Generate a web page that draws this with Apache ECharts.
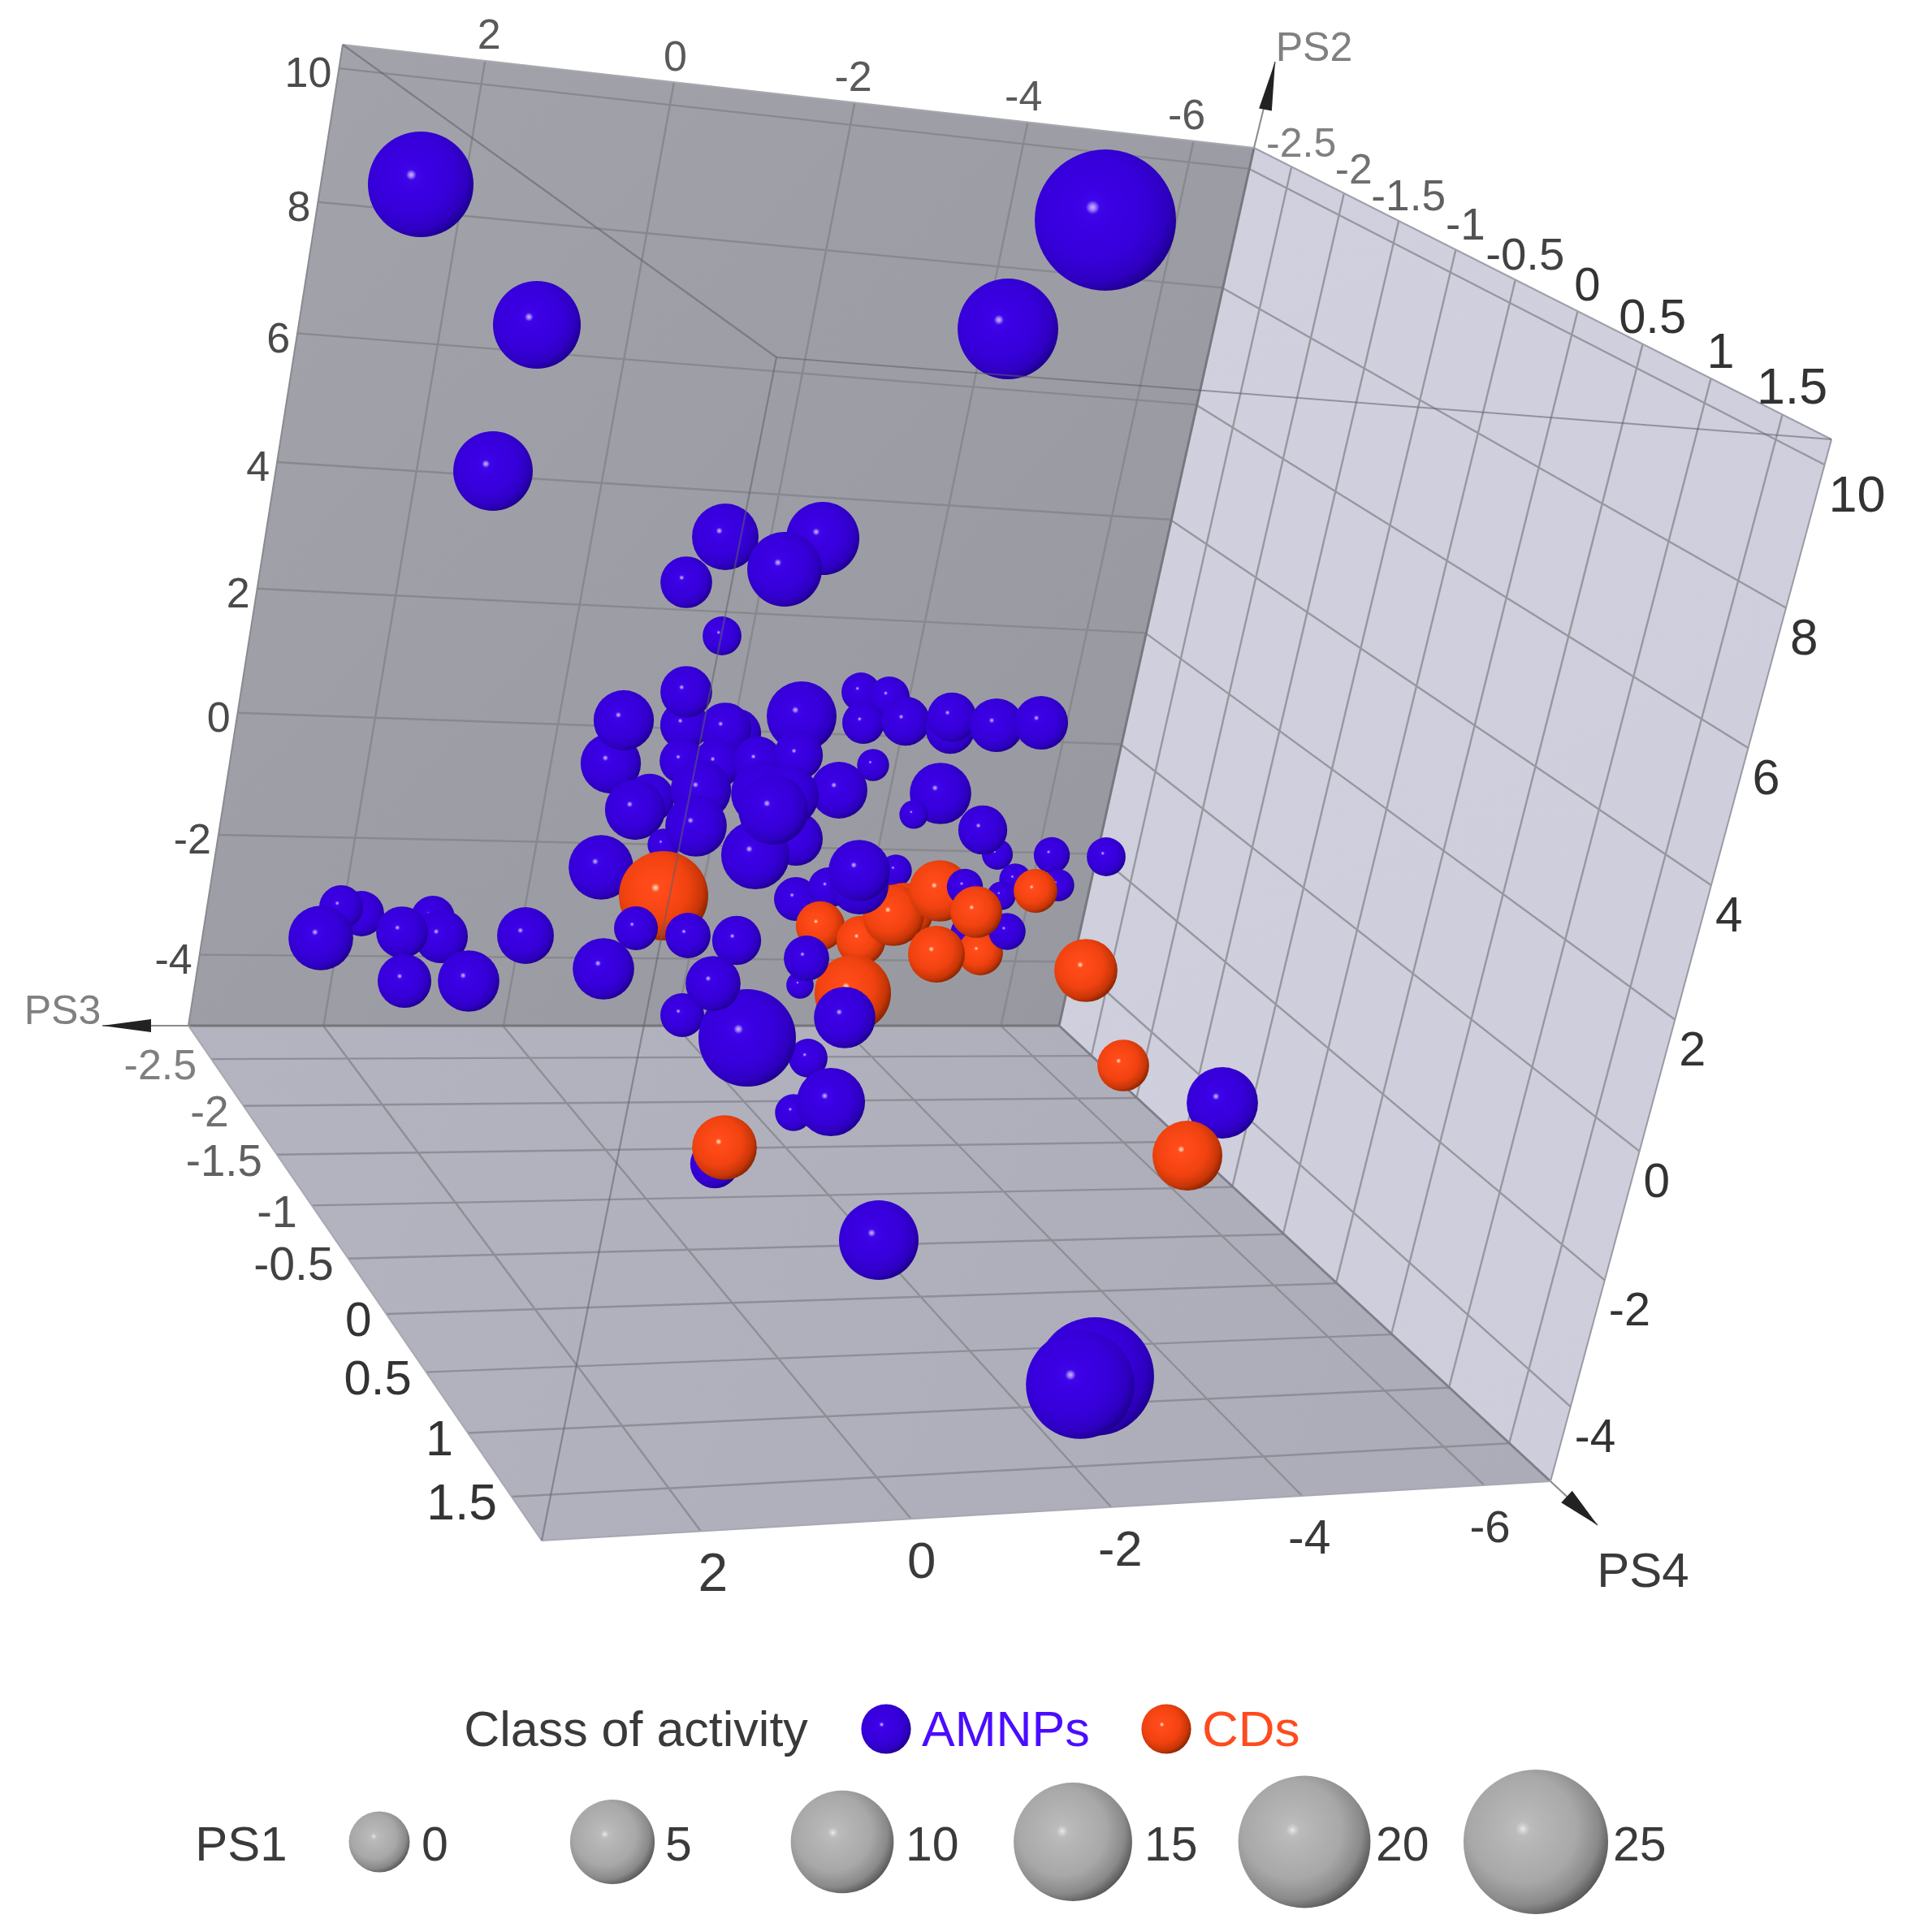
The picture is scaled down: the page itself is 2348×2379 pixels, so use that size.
<!DOCTYPE html>
<html>
<head>
<meta charset="utf-8">
<title>PS1-PS4 bubble plot</title>
<script src="https://cdn.jsdelivr.net/npm/echarts@6/dist/echarts.min.js"></script>
<style>
  html, body { margin: 0; padding: 0; background: #fff; }
  #chart { width: 2348px; height: 2379px; }
</style>
</head>
<body>
<div id="chart"></div>
<script>
// tick labels of the three box axes
const ps2Ticks = [10, 8, 6, 4, 2, 0, -2, -4]
const ps3Ticks = [-2.5, -2, -1.5, -1, -0.5, 0, 0.5, 1, 1.5]
const ps4Ticks = [2, 0, -2, -4, -6]
const ps1LegendValues = [0, 5, 10, 15, 20, 25]
const classNames = ['AMNPs', 'CDs']

// bubbles, far to near: class, projected x, projected y, PS1
const bubbles = [
  ['A', 518, 227, 10.8], ['A', 1361, 271, 23.6], ['A', 661, 400, 5.8], ['A', 1241, 405, 9.3],
  ['A', 607, 580, 3.8], ['A', 893, 661, 1.05], ['A', 1013, 663, 2.4], ['A', 966, 701, 2.7],
  ['A', 845, 717, -1.5], ['A', 889, 783, -3.2],
  ['A', 445, 1125, -2.4], ['A', 420, 1117, -2.6], ['A', 395, 1155, 0.7], ['A', 533, 1130, -2.6],
  ['A', 543, 1153, -1.2], ['A', 495, 1148, -1.5], ['A', 498, 1208, -1.2], ['A', 577, 1208, 0.1],
  ['A', 647, 1152, -0.7],
  ['A', 843, 893, -1.9], ['A', 845, 852, -1.5], ['A', 907, 903, -1.9], ['A', 893, 897, -1.5],
  ['A', 752, 940, -0.1], ['A', 768, 887, -0.1], ['A', 987, 882, 1.7], ['A', 840, 937, -2.4],
  ['A', 883, 940, -1.9], ['A', 933, 937, -1.9], ['A', 983, 930, -1.9], ['A', 1033, 973, -0.7],
  ['A', 800, 983, -1.9], ['A', 782, 997, -0.1], ['A', 863, 973, -0.1], ['A', 817, 1040, -3.9],
  ['A', 857, 1017, 0.1], ['A', 980, 1033, -1.2], ['A', 930, 1053, 1.4], ['A', 940, 977, 0.7],
  ['A', 970, 980, 0.1], ['A', 952, 997, 1.7], ['A', 740, 1068, 0.7],
  ['C', 817, 1103, 6.2], ['A', 783, 1143, -2.6], ['A', 847, 1152, -2.4], ['A', 907, 1158, -1.9],
  ['A', 743, 1193, 0.1],
  ['A', 1060, 852, -3.2], ['A', 1095, 858, -3.0], ['A', 1063, 890, -2.8], ['A', 1115, 888, -1.9],
  ['A', 1170, 898, -1.9], ['A', 1172, 883, -1.9], ['A', 1227, 893, -1.2], ['A', 1282, 890, -1.2],
  ['A', 1075, 942, -3.9], ['A', 1158, 977, 0.1], ['A', 1125, 1003, -4.2], ['A', 1228, 1052, -4.0],
  ['A', 1210, 1022, -1.9], ['A', 1295, 1053, -3.5], ['A', 1362, 1055, -3.2], ['A', 1303, 1090, -3.9],
  ['A', 1250, 1083, -3.9], ['A', 1233, 1103, -4.2], ['C', 1275, 1097, -2.6],
  ['A', 980, 1107, -2.6], ['A', 1020, 1093, -3.0], ['A', 1103, 1072, -3.9],
  ['C', 1010, 1140, -1.9], ['C', 1060, 1158, -1.9], ['C', 1113, 1123, -0.4], ['C', 1100, 1127, 0.1],
  ['A', 1058, 1090, -0.4], ['A', 1058, 1072, 0.1],
  ['C', 1157, 1097, 0.1], ['A', 1188, 1092, -3.5], ['A', 1195, 1150, -3.0], ['C', 1207, 1173, -2.4],
  ['C', 1153, 1175, -0.7], ['A', 1240, 1147, -3.4], ['C', 1202, 1123, -1.5],
  ['C', 1050, 1223, 3.1], ['A', 985, 1213, -4.3], ['A', 993, 1180, -2.4], ['A', 1040, 1253, 0.1],
  ['C', 1337, 1195, 0.4], ['C', 1383, 1312, -1.5],
  ['A', 840, 1250, -2.6], ['A', 995, 1303, -3.2], ['A', 920, 1278, 8.4], ['A', 878, 1211, -1.0],
  ['A', 977, 1370, -3.4], ['A', 1023, 1357, 1.4],
  ['A', 880, 1433, -1.9], ['C', 892, 1413, 0.7], ['A', 1082, 1527, 3.8],
  ['A', 1505, 1358, 2.0], ['C', 1462, 1423, 1.7],
  ['A', 1348, 1695, 15.0], ['A', 1330, 1705, 11.7]
]

// box corners on the picture
const A = [422, 55], B = [1544, 182], C = [1304, 1263], D = [232, 1263]
const G = [2255, 541], E = [1909, 1824], F = [667, 1897], H = [956, 440]

const PS2_RANGE = [10.35, -5.2]
const PS3_RANGE = [-2.87, 1.83]
const PS4_RANGE = [3.45, -6.75]

const FONT = '"Liberation Sans", Arial, sans-serif'

// PS1 is drawn by sphere area, fitted on the legend spheres
function sphereSize(ps1) {
  return Math.sqrt(Math.max(400, 5625 + 1044 * ps1))
}

function norm(value, range) {
  return (value - range[0]) / (range[1] - range[0])
}

// perspective map of the unit square onto a box face
function faceMap(q) {
  const [x0, y0] = q[0], [x1, y1] = q[1], [x2, y2] = q[2], [x3, y3] = q[3]
  const sx = x0 - x1 + x2 - x3, sy = y0 - y1 + y2 - y3
  const dx1 = x1 - x2, dx2 = x3 - x2, dy1 = y1 - y2, dy2 = y3 - y2
  const den = dx1 * dy2 - dx2 * dy1
  const g = (sx * dy2 - dx2 * sy) / den
  const h = (dx1 * sy - sx * dy1) / den
  const a = x1 - x0 + g * x1, b = x3 - x0 + h * x3
  const d = y1 - y0 + g * y1, e = y3 - y0 + h * y3
  return (u, v) => {
    const w = g * u + h * v + 1
    return [(a * u + b * v + x0) / w, (d * u + e * v + y0) / w]
  }
}

const backFace = faceMap([A, B, C, D])
const rightFace = faceMap([B, G, E, C])
const floorFace = faceMap([D, C, E, F])

const back = (ps4, ps2) => backFace(norm(ps4, PS4_RANGE), norm(ps2, PS2_RANGE))
const right = (ps3, ps2) => rightFace(norm(ps3, PS3_RANGE), norm(ps2, PS2_RANGE))
const floor = (ps4, ps3) => floorFace(norm(ps4, PS4_RANGE), norm(ps3, PS3_RANGE))

// grid lines of the three walls
const gridSegments = []
ps4Ticks.forEach(t => {
  gridSegments.push([back(t, PS2_RANGE[0]), back(t, PS2_RANGE[1]), '#88888e'])
  gridSegments.push([floor(t, PS3_RANGE[0]), floor(t, PS3_RANGE[1]), '#8e8e96'])
})
ps2Ticks.forEach(t => {
  gridSegments.push([back(PS4_RANGE[0], t), back(PS4_RANGE[1], t), '#88888e'])
  gridSegments.push([right(PS3_RANGE[0], t), right(PS3_RANGE[1], t), '#97979f'])
})
ps3Ticks.forEach(t => {
  gridSegments.push([floor(PS4_RANGE[0], t), floor(PS4_RANGE[1], t), '#8e8e96'])
  gridSegments.push([right(t, PS2_RANGE[0]), right(t, PS2_RANGE[1]), '#97979f'])
})
const boxEdges = [
  [D, C, '#75757b', 3], [B, C, '#77777e', 3], [C, E, '#7e7e88', 3],
  [A, B, '#a8a8ae', 2], [A, D, '#8a8a90', 2], [B, G, '#a0a0aa', 2],
  [G, E, '#9a9aa4', 2], [D, F, '#a8a8b2', 2], [F, E, '#a8a8b2', 2]
]
// the three front edges of the box are see-through and pass over the bubbles
const frontEdges = [[H, A], [H, G], [H, F]]

const faces = [
  { pts: [A, B, C, D], fill: ['#a3a4ab', '#97989f'] },
  { pts: [B, G, E, C], fill: ['#d0d0de', '#cdcddb'] },
  { pts: [D, C, E, F], fill: ['#b4b4c0', '#acacb8'] }
]

const arrows = [
  { from: B, base: [1558, 135], tip: [1570, 76], w: 8 },
  { from: D, base: [186, 1263], tip: [126, 1263], w: 8 },
  { from: E, base: [1929, 1843], tip: [1967, 1878], w: 10 }
]

// all text of the picture, anchored on the projected ticks
const texts = []
function addText(text, x, y, size, color, align) {
  texts.push({ text: String(text), x, y, size, color, align: align || 'center' })
}
function mix(t) {
  const g = Math.round(0x80 + (0x33 - 0x80) * Math.min(1, Math.max(0, t)))
  return `rgb(${g},${g},${g})`
}
ps4Ticks.forEach((t, i) => {
  const p = back(t, PS2_RANGE[0])
  addText(t, p[0] + 5 - i * 3.4, p[1] - 29, 52, '#5a5a5a')
  const q = floor(t, PS3_RANGE[1])
  addText(t, q[0] + 15 - i * 2, q[1] + 55, 66 - i * 2.4, '#3a3a3a')
})
ps2Ticks.forEach((t, i) => {
  const p = back(PS4_RANGE[0], t)
  addText(t, p[0] - 9, p[1] + 9, 52, '#4a4a4a', 'right')
  const q = right(PS3_RANGE[1], t)
  addText(t, q[0] + 5, q[1] + 40, 63 - i * 0.9, '#333', 'left')
})
ps3Ticks.forEach((t, i) => {
  const p = floor(PS4_RANGE[0], t)
  addText(t, p[0] - 18, p[1] + 11, 52 + i * 1.3, mix(i / 5), 'right')
  const q = right(t, PS2_RANGE[0])
  addText(t, q[0] + 12, q[1] - 26 - i * 0.6, 50 + i * 1.6, mix(i / 5))
})
addText('PS2', 1618, 61, 50, '#808080')
addText('PS3', 77, 1247, 50, '#808080')
addText('PS4', 2023, 1937, 60, '#3a3a3a')

addText('Class of activity', 783, 2133, 61, '#3a3a3a')
addText(classNames[0], 1135, 2133, 61, '#4a0cff', 'left')
addText(classNames[1], 1480, 2133, 62, '#ff4a1e', 'left')
addText('PS1', 297, 2274, 60, '#3a3a3a')

// spheres: gradient centred on the light spot, upper left of the middle
function sphere(stops) {
  const offsets = [0, 0.035, 0.08, 0.2, 0.6, 0.85, 1]
  return new echarts.graphic.RadialGradient(0.41, 0.41, 0.62,
    stops.map((color, i) => ({ offset: offsets[i], color })))
}
const blueFill = sphere(['#cdb8ff', '#9a78ff', '#3e06ea', '#3c00e4', '#3600da', '#2e00c0', '#1e0090'])
const orangeFill = sphere(['#ffe4d6', '#ffa880', '#ff4c1a', '#ff4a18', '#f04210', '#c83608', '#8a2400'])
const grayFill = sphere(['#ebebeb', '#d2d2d2', '#bcbcbc', '#b6b6b6', '#a8a8a8', '#8a8a8a', '#5a5a5a'])

const bubbleData = bubbles.map(b => ({
  value: [b[1], b[2], b[3]],
  itemStyle: { color: b[0] === 'A' ? blueFill : orangeFill, opacity: 1 }
}))

// legend spheres are drawn the same way, on the legend row
const legendX = [467, 754, 1037, 1321, 1606, 1891]
const legendLabelX = [519, 819, 1115, 1409, 1694, 1986]
const legendData = [
  { value: [1091, 2129, -1.8], itemStyle: { color: blueFill, opacity: 1 } },
  { value: [1436, 2129, -1.8], itemStyle: { color: orangeFill, opacity: 1 } }
]
ps1LegendValues.forEach((v, i) => {
  legendData.push({ value: [legendX[i], 2268, v], itemStyle: { color: grayFill, opacity: 1 } })
  addText(v, legendLabelX[i], 2275, 59, '#3a3a3a', 'left')
})

const myChart = echarts.init(document.getElementById('chart'))

const lineSeries = (data, z, render) => ({
  type: 'custom', coordinateSystem: 'cartesian2d', silent: true, clip: false,
  z, data, renderItem: render, encode: { x: 0, y: 1 }
})

myChart.setOption({
  backgroundColor: '#ffffff',
  animation: false,
  grid: { left: 0, right: 0, top: 0, bottom: 0 },
  xAxis: { type: 'value', min: 0, max: 2348, show: false },
  yAxis: { type: 'value', min: 0, max: 2379, inverse: true, show: false },
  series: [
    // walls
    lineSeries(faces.map(f => f.pts[0]), 1, (params, api) => {
      const f = faces[params.dataIndex]
      const pts = f.pts.map(p => api.coord(p))
      return {
        type: 'polygon',
        shape: { points: pts },
        style: {
          fill: new echarts.graphic.LinearGradient(0, 0, 1, 1, [
            { offset: 0, color: f.fill[0] }, { offset: 1, color: f.fill[1] }
          ])
        }
      }
    }),
    // grid
    lineSeries(gridSegments.map(s => s[0]), 2, (params, api) => {
      const s = gridSegments[params.dataIndex]
      const a = api.coord(s[0]), b = api.coord(s[1])
      return {
        type: 'line',
        shape: { x1: a[0], y1: a[1], x2: b[0], y2: b[1] },
        style: { stroke: s[2], lineWidth: 2.4 }
      }
    }),
    // box outline and axis stems
    lineSeries(boxEdges.map(s => s[0]), 3, (params, api) => {
      const s = boxEdges[params.dataIndex]
      const a = api.coord(s[0]), b = api.coord(s[1])
      return {
        type: 'line',
        shape: { x1: a[0], y1: a[1], x2: b[0], y2: b[1] },
        style: { stroke: s[2], lineWidth: s[3] }
      }
    }),
    lineSeries(arrows.map(s => s.from), 3, (params, api) => {
      const s = arrows[params.dataIndex]
      const a = api.coord(s.from), b = api.coord(s.tip), c = api.coord(s.base)
      const dx = b[0] - c[0], dy = b[1] - c[1], len = Math.hypot(dx, dy)
      const nx = -dy / len * s.w, ny = dx / len * s.w
      return {
        type: 'group',
        children: [
          { type: 'line', shape: { x1: a[0], y1: a[1], x2: b[0], y2: b[1] }, style: { stroke: '#8a8a8a', lineWidth: 2 } },
          { type: 'polygon', shape: { points: [[c[0] + nx, c[1] + ny], b, [c[0] - nx, c[1] - ny]] }, style: { fill: '#222222' } }
        ]
      }
    }),
    // bubbles
    {
      type: 'scatter',
      z: 4,
      silent: true,
      symbol: 'circle',
      symbolSize: v => sphereSize(v[2]),
      data: bubbleData
    },
    {
      type: 'scatter',
      z: 4,
      silent: true,
      symbol: 'circle',
      symbolSize: v => sphereSize(v[2]),
      data: legendData
    },
    // front edges of the box
    lineSeries(frontEdges.map(s => s[0]), 5, (params, api) => {
      const s = frontEdges[params.dataIndex]
      const a = api.coord(s[0]), b = api.coord(s[1])
      return {
        type: 'line',
        shape: { x1: a[0], y1: a[1], x2: b[0], y2: b[1] },
        style: { stroke: 'rgba(95,95,110,0.55)', lineWidth: 2.2 }
      }
    }),
    // text
    lineSeries(texts.map(t => [t.x, t.y]), 6, (params, api) => {
      const t = texts[params.dataIndex]
      const p = api.coord([t.x, t.y])
      return {
        type: 'text',
        x: p[0],
        y: p[1],
        style: {
          text: t.text,
          fill: t.color,
          font: `${t.size}px ${FONT}`,
          align: t.align,
          verticalAlign: 'middle'
        }
      }
    })
  ]
})
</script>
</body>
</html>
